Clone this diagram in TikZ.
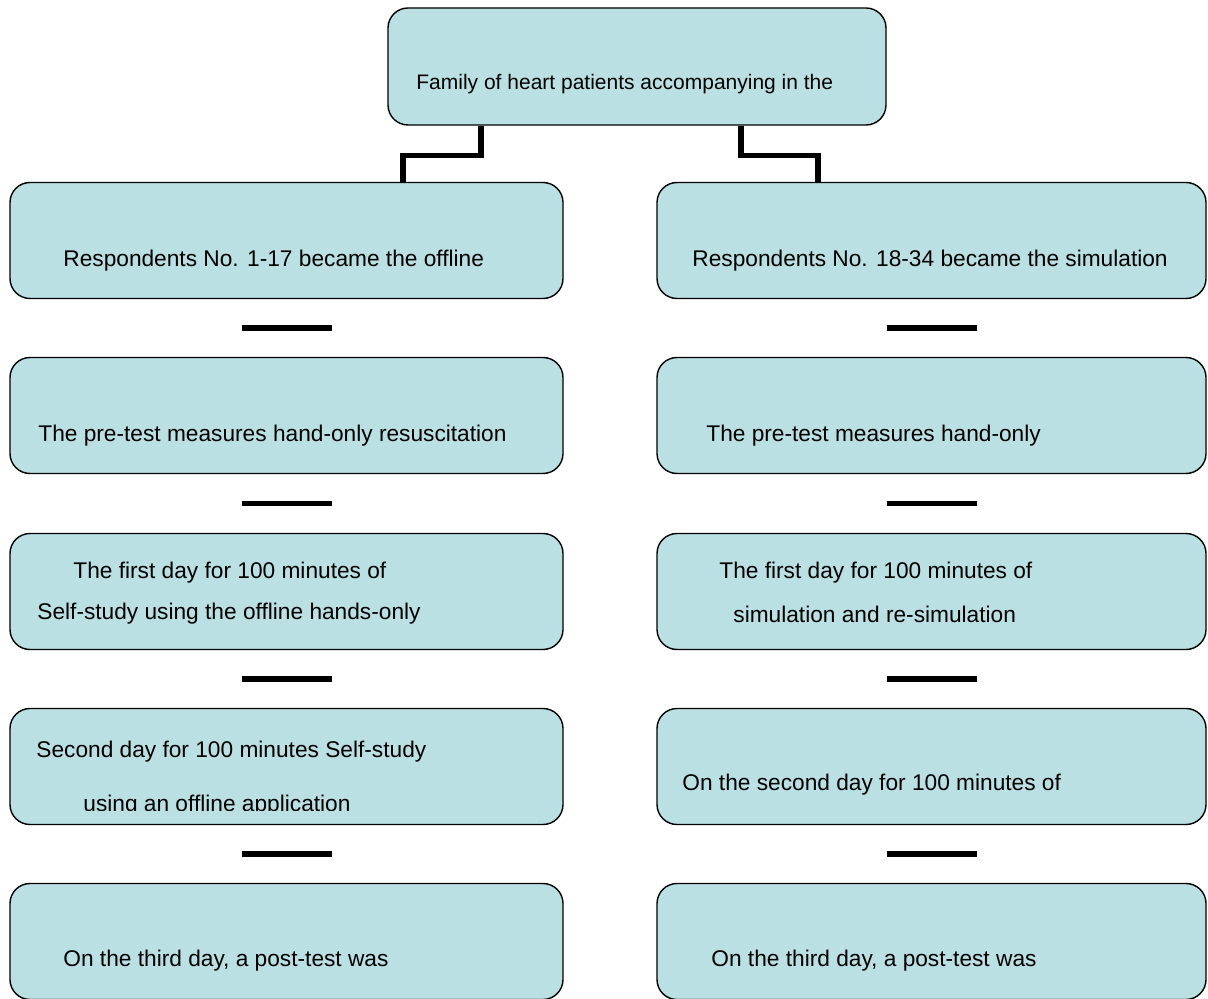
\documentclass[tikz,border=0pt]{standalone}
\usepackage{fontspec}
\setmainfont{Liberation Sans}
\usetikzlibrary{positioning, calc}

\definecolor{boxfill}{RGB}{186,224,227}
\tikzset{
  box/.style={draw, rounded corners=10pt, fill=boxfill, line width=0.7pt, inner sep=0pt},
  leftbox/.style={box, minimum width=276.5pt, minimum height=58pt},
  rightbox/.style={box, minimum width=274.5pt, minimum height=58pt},
  txt/.style={anchor=west, inner sep=0pt, font=\fontsize{11.35}{13}\selectfont},
  toptxt/.style={txt, font=\fontsize{10.5}{12}\selectfont},
  link/.style={line width=2.6pt},
}

\begin{document}
\begin{tikzpicture}[x=0.5pt,y=-0.5pt]
  \useasboundingbox (0,0) rectangle (1208,999);

  % Boxes
  \node[box, minimum width=249pt, minimum height=58.5pt] (top) at (637,66.5) {};
  \foreach \r/\y in {1/240.5,2/415.5,3/591.5,4/766.5,5/941.5} {
    \node[leftbox] (L\r) at (286.5,\y) {};
    \node[rightbox] (R\r) at (931.5,\y) {};
  }

  % Texts
  \node[toptxt] (ttop) at (416,84) {Family of heart patients accompanying in the};
  \node[txt] (tL1) at (63,261) {Respondents No. 1-17 became the offline};
  \node[txt] (tR1) at (692,261) {Respondents No. 18-34 became the simulation};
  \node[txt] (tL2) at (38,436) {The pre-test measures hand-only resuscitation};
  \node[txt] (tR2) at (706,436) {The pre-test measures hand-only};
  \node[txt] (tL3a) at (73,573) {The first day for 100 minutes of};
  \node[txt] (tL3b) at (37,614) {Self-study using the offline hands-only};
  \node[txt] (tR3a) at (719,573) {The first day for 100 minutes of};
  \node[txt] (tR3b) at (733,614) {simulation and re-simulation};
  \node[txt] (tL4a) at (36,752) {Second day for 100 minutes Self-study};
  \begin{scope}
    \clip (0,0) rectangle (1208,810);
    \node[txt] (tL4b) at (83,806) {using an offline application};
  \end{scope}
  \node[txt] (tR4) at (682,785) {On the second day for 100 minutes of};
  \node[txt] (tL5) at (63,961) {On the third day, a post-test was};
  \node[txt] (tR5) at (711,961) {On the third day, a post-test was};

  % Connectors
  \draw[link] ([xshift=-78pt]top.south) -- ++(0,30) -| ([xshift=58.25pt]L1.north);
  \draw[link] ([xshift=52pt]top.south) -- ++(0,30) -| ([xshift=-56.75pt]R1.north);
  \foreach \r in {1,...,4} {
    \pgfmathtruncatemacro{\n}{\r+1}
    \draw[link] ($(L\r.south)!.5!(L\n.north)$) +(-45,0) -- +(45,0);
    \draw[link] ($(R\r.south)!.5!(R\n.north)$) +(-45,0) -- +(45,0);
  }
\end{tikzpicture}
\end{document}
